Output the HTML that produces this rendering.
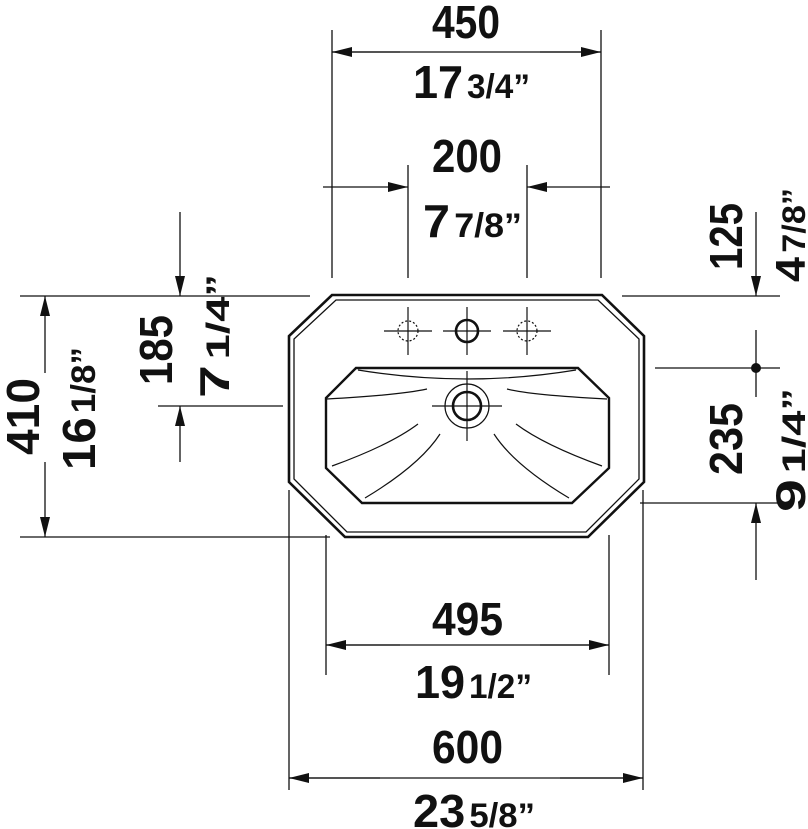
<!DOCTYPE html>
<html><head><meta charset="utf-8"><style>html,body{margin:0;padding:0;background:#fff}svg{display:block}text{font-family:"Liberation Sans",sans-serif;font-weight:bold;fill:#111}</style></head>
<body>
<svg width="808" height="829" viewBox="0 0 808 829" xmlns="http://www.w3.org/2000/svg">
<defs>
<marker id="b" viewBox="0 0 20 10" refX="20" refY="5" markerWidth="20" markerHeight="10" markerUnits="userSpaceOnUse" orient="auto"><path d="M0,0 L20,5 L0,10 Z" fill="#111"/></marker>
</defs>
<g stroke="#111" stroke-width="1.3" fill="none">
<line x1="332" y1="30" x2="332" y2="278"/><line x1="601" y1="30" x2="601" y2="278"/>
<line x1="332" y1="52" x2="601" y2="52"/>
<line x1="400" y1="52" x2="332" y2="52" marker-end="url(#b)"/><line x1="540" y1="52" x2="601" y2="52" marker-end="url(#b)"/>
<line x1="408" y1="165" x2="408" y2="278"/><line x1="527" y1="165" x2="527" y2="278"/>
<line x1="323" y1="187" x2="408" y2="187" marker-end="url(#b)"/>
<line x1="610" y1="187" x2="527" y2="187" marker-end="url(#b)"/>
<line x1="20" y1="296" x2="310" y2="296"/><line x1="20" y1="537" x2="330" y2="537"/>
<line x1="45" y1="373" x2="45" y2="296" marker-end="url(#b)"/>
<line x1="45" y1="462" x2="45" y2="537" marker-end="url(#b)"/>
<line x1="180" y1="212" x2="180" y2="296" marker-end="url(#b)"/>
<line x1="158" y1="406" x2="283" y2="406"/>
<line x1="180" y1="462" x2="180" y2="406" marker-end="url(#b)"/>
<line x1="622" y1="296" x2="780" y2="296"/>
<line x1="756" y1="212" x2="756" y2="296" marker-end="url(#b)"/>
<line x1="655" y1="368" x2="780" y2="368"/><line x1="756" y1="330" x2="756" y2="397"/>
<line x1="640" y1="503" x2="780" y2="503"/>
<line x1="756" y1="580" x2="756" y2="503" marker-end="url(#b)"/>
<line x1="326" y1="535" x2="326" y2="675"/><line x1="609" y1="535" x2="609" y2="675"/>
<line x1="326" y1="645" x2="609" y2="645"/>
<line x1="400" y1="645" x2="326" y2="645" marker-end="url(#b)"/><line x1="540" y1="645" x2="609" y2="645" marker-end="url(#b)"/>
<line x1="289" y1="490" x2="289" y2="790"/><line x1="643" y1="490" x2="643" y2="790"/>
<line x1="289" y1="778" x2="643" y2="778"/>
<line x1="380" y1="778" x2="289" y2="778" marker-end="url(#b)"/><line x1="560" y1="778" x2="643" y2="778" marker-end="url(#b)"/>
</g>
<circle cx="756" cy="368" r="5" fill="#111"/>
<g stroke="#111" fill="none">
<polygon points="332,295 602,295 644,336 644,482 588,537 345,537 289,482 289,336" stroke-width="2.6"/>
<polygon points="336,300 598,300 639,339 639,479 586,532 347,532 294,479 294,339" stroke-width="1.3"/>
<polygon points="356,368 578,368 609,398 609,468 572,503 362,503 326,468 326,398" stroke-width="2.4"/>
<path d="M358,370 Q467,388 576,370" stroke-width="1.2"/>
<path d="M327,399 Q400,395 427,389 M607,399 Q530,395 507,389" stroke-width="1.2"/>
<path d="M332,466 Q390,445 418,424 M365,498 Q420,465 440,434 M602,466 Q544,445 516,424 M569,498 Q514,465 494,434" stroke-width="1.2"/>
<circle cx="467" cy="406" r="22" stroke-width="1.2"/>
<circle cx="467" cy="406" r="14" stroke-width="2.6"/>
<path d="M432,406 H502 M467,371 V441" stroke-width="1.2"/>
<circle cx="408" cy="331" r="10" stroke-width="1.2" stroke-dasharray="2,2"/>
<circle cx="467" cy="331" r="11" stroke-width="2.6"/>
<circle cx="527" cy="331" r="10" stroke-width="1.2" stroke-dasharray="2,2"/>
<path d="M384,331 H432 M408,307 V355 M443,331 H491 M467,307 V355 M503,331 H551 M527,307 V355" stroke-width="1.2"/>
</g>
<text x="432" y="38" font-size="46" textLength="68" lengthAdjust="spacingAndGlyphs">450</text>
<text x="413" y="98" font-size="46" textLength="117" lengthAdjust="spacingAndGlyphs">17<tspan dx="4" font-size="34">3/4”</tspan></text>
<text x="432" y="172" font-size="46" textLength="70" lengthAdjust="spacingAndGlyphs">200</text>
<text x="423" y="237" font-size="46" textLength="99" lengthAdjust="spacingAndGlyphs">7<tspan dx="4" font-size="34">7/8”</tspan></text>
<text x="432" y="635" font-size="46" textLength="71" lengthAdjust="spacingAndGlyphs">495</text>
<text x="415" y="698" font-size="46" textLength="117" lengthAdjust="spacingAndGlyphs">19<tspan dx="4" font-size="34">1/2”</tspan></text>
<text x="432" y="763" font-size="46" textLength="71" lengthAdjust="spacingAndGlyphs">600</text>
<text x="413" y="827" font-size="46" textLength="122" lengthAdjust="spacingAndGlyphs">23<tspan dx="4" font-size="34">5/8”</tspan></text>
<text transform="translate(39,455) rotate(-90)" font-size="46" textLength="77" lengthAdjust="spacingAndGlyphs">410</text>
<text transform="translate(95,470) rotate(-90)" font-size="46" textLength="123" lengthAdjust="spacingAndGlyphs">16<tspan dx="4" font-size="34">1/8”</tspan></text>
<text transform="translate(172,385) rotate(-90)" font-size="46" textLength="70" lengthAdjust="spacingAndGlyphs">185</text>
<text transform="translate(229,398) rotate(-90)" font-size="42" textLength="124" lengthAdjust="spacingAndGlyphs">7<tspan dx="4" font-size="32">1/4”</tspan></text>
<text transform="translate(742,270) rotate(-90)" font-size="46" textLength="67" lengthAdjust="spacingAndGlyphs">125</text>
<text transform="translate(805,282) rotate(-90)" font-size="42" textLength="94" lengthAdjust="spacingAndGlyphs">4<tspan dx="4" font-size="32">7/8”</tspan></text>
<text transform="translate(742,475) rotate(-90)" font-size="46" textLength="72" lengthAdjust="spacingAndGlyphs">235</text>
<text transform="translate(805,512) rotate(-90)" font-size="42" textLength="124" lengthAdjust="spacingAndGlyphs">9<tspan dx="4" font-size="32">1/4”</tspan></text>
</svg>
</body></html>
